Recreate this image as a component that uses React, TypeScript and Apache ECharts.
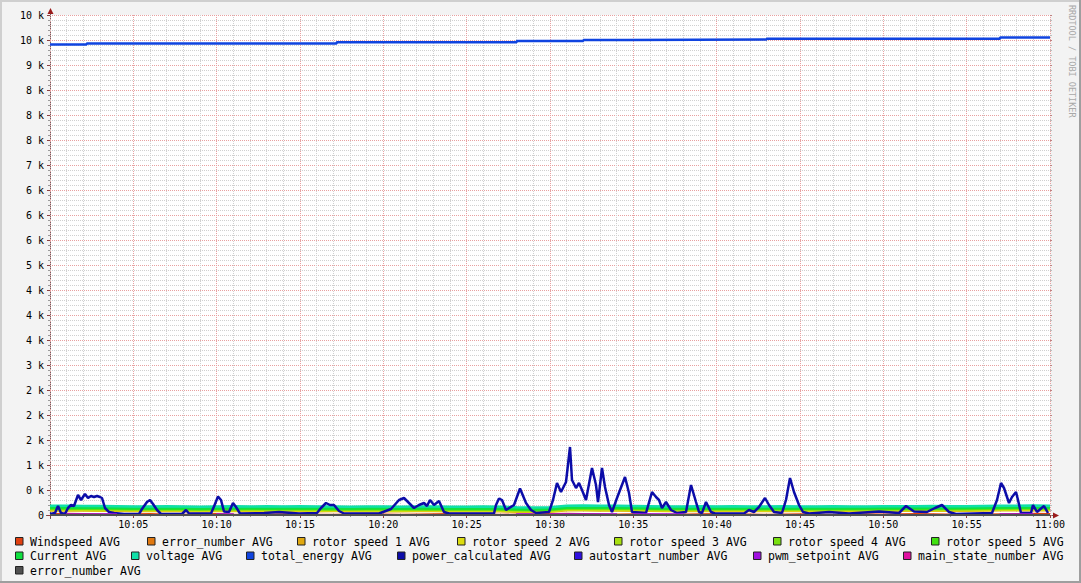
import React, { useEffect, useRef } from "react";
import * as echarts from "echarts";

// ---- tick labels ----
const xTickLabels = ["", "10:05", "10:10", "10:15", "10:20", "10:25", "10:30", "10:35", "10:40", "10:45", "10:50", "10:55", "11:00"];
const yTickLabels = ["0", "0 k", "1 k", "2 k", "2 k", "2 k", "3 k", "4 k", "4 k", "4 k", "5 k", "6 k", "6 k", "6 k", "7 k", "8 k", "8 k", "8 k", "9 k", "10 k", "10 k"];

// ---- series names / colours (legend order = drawing order) ----
const seriesNames = [
  "Windspeed AVG", "error_number AVG", "rotor speed 1 AVG", "rotor speed 2 AVG", "rotor speed 3 AVG",
  "rotor speed 4 AVG", "rotor speed 5 AVG", "Current AVG", "voltage AVG", "total_energy AVG",
  "power_calculated AVG", "autostart_number AVG", "pwm_setpoint AVG", "main_state_number AVG", "error_number AVG",
];
const seriesColors = [
  "#E04010", "#E07810", "#E0A810", "#DCDC10", "#A8E010",
  "#78E010", "#40E010", "#10E040", "#10E0A8", "#1044E0",
  "#0C0CA8", "#3010E0", "#A010E0", "#E010A0", "#505050",
];

// ---- data: minutes after 10:00 ----
const minutes = Array.from({ length: 61 }, (_, i) => i);

const windspeedAvg = [20,25,20,15,10,15,20,10,5,15, 20,10,5,10,15,20,10,5,10,15, 10,5,10,15,20,15,10,5,10,15, 20,25,20,15,10,15,10,5,10,15, 20,15,10,5,10,15,10,5,10,15, 10,15,20,15,10,5,10,15,20,25, 20];
const errorNumberAvg: [number, number][] = [[0, 0], [60, 0]];
const rotor1Avg = [90,95,90,85,85,80,80,85,80,75, 80,85,80,80,85,80,75,80,80,75, 80,75,80,80,75,75,80,75,65,60, 65,95,95,90,90,85,85,80,80,85, 80,85,80,80,85,80,75,80,85,80, 80,85,85,90,85,85,90,95,95,100, 95];
const rotor2Avg = [100,105,100,95,95,90,90,95,90,85, 90,95,90,90,95,90,85,90,90,85, 90,85,90,90,85,85,90,85,75,70, 75,105,105,100,100,95,95,90,90,95, 90,95,90,90,95,90,85,90,95,90, 90,95,95,100,95,95,100,105,105,110, 105];
const rotor3Avg = [115,120,115,110,110,105,110,105,105,100, 105,110,105,105,110,105,100,105,105,100, 105,100,105,105,100,100,105,100,90,85, 90,120,120,115,115,110,110,105,105,110, 105,110,105,105,105,110,100,105,110,105, 105,110,110,115,110,110,115,120,120,125, 120];
const rotor4Avg = [125,130,125,125,120,115,115,120,115,110, 115,115,120,115,120,115,115,110,115,115, 110,115,115,110,115,110,110,115,100,95, 100,130,130,130,125,125,120,115,115,120, 115,115,120,115,115,120,115,115,120,115, 115,120,120,125,120,120,125,130,130,135, 130];
const rotor5Avg = [140,135,135,140,130,125,130,125,125,120, 125,130,130,125,125,130,125,120,120,125, 125,125,120,125,120,125,120,120,110,105, 110,140,140,145,135,135,130,125,130,125, 125,130,125,130,125,125,130,125,125,130, 130,125,130,135,130,135,135,140,145,140, 140];
const currentAvg = [150,150,145,145,140,135,135,140,135,130, 135,140,135,140,135,140,135,135,130,135, 135,130,135,135,130,130,135,130,120,115, 120,150,155,150,150,145,140,135,135,140, 135,140,135,135,140,135,135,140,135,135, 140,140,140,145,140,140,145,150,150,155, 150];
const voltageAvg = [185,185,180,180,175,170,170,175,170,165, 170,175,170,175,170,175,170,170,165,170, 170,165,170,170,165,165,170,165,155,150, 155,185,190,185,185,180,175,170,170,175, 170,175,170,170,175,170,170,175,170,170, 175,175,175,180,175,175,180,185,185,190, 185];
const totalEnergyAvg: [number, number][] = [[0, 9410], [2.2, 9430], [17.2, 9455], [28, 9480], [32, 9500], [34.6, 9510], [43, 9525], [57, 9550], [60, 9550]];
const powerCalculatedAvg: [number, number][] = [
  [0,20],[0.3,40],[0.48,180],[0.66,40],[0.9,20],[1.08,140],[1.26,200],[1.44,180],[1.68,400],[1.86,300],[2.1,420],[2.28,340],[2.46,380],[2.64,360],[2.82,380],[3.0,360],[3.12,340],[3.3,140],[3.54,60],[3.84,40],[4.44,20],
  [5.34,20],[5.52,120],[5.82,260],[6.0,300],[6.18,220],[6.42,100],[6.66,20],[7.92,20],[8.16,100],[8.34,30],[9.66,30],[9.84,170],[10.08,370],[10.26,300],[10.44,70],[10.74,60],[10.98,240],[11.16,160],[11.4,30],
  [12.84,40],[13.74,60],[14.94,30],[16.02,40],[16.26,140],[16.56,240],[16.8,200],[17.04,200],[17.34,80],[17.64,30],[19.74,30],[20.46,120],[20.94,300],[21.24,340],[21.54,240],[21.84,140],[22.14,200],[22.44,240],[22.62,180],[22.8,300],[23.04,200],[23.34,280],[23.64,60],[23.94,30],
  [26.64,30],[26.76,200],[26.94,330],[27.12,300],[27.36,100],[27.84,200],[28.2,530],[28.56,240],[28.86,100],[29.16,40],[29.94,60],[30.18,300],[30.42,640],[30.66,460],[30.96,660],[31.2,1360],[31.32,700],[31.56,540],[31.74,640],[31.92,500],[32.16,300],[32.52,940],[32.76,600],[32.88,260],[33.12,940],[33.3,560],[33.54,200],[33.72,60],[34.02,340],[34.5,760],[34.74,440],[34.92,60],
  [35.76,40],[36.12,460],[36.36,360],[36.54,300],[36.72,140],[36.96,260],[37.26,100],[37.62,40],[38.16,60],[38.46,600],[38.76,260],[38.94,60],[39.12,40],[39.36,260],[39.66,60],[39.9,30],[41.64,30],[41.94,100],[42.24,60],[42.54,160],[42.9,340],[43.14,200],[43.44,60],[43.92,40],[44.16,300],[44.4,740],[44.64,460],[44.94,200],[45.18,60],[45.54,30],
  [46.74,60],[47.94,30],[49.74,70],[50.94,40],[51.12,100],[51.36,180],[51.84,70],[52.62,60],[53.1,140],[53.52,200],[53.94,60],[54.36,20],[56.52,40],[56.82,300],[57.06,640],[57.24,540],[57.54,240],[57.72,360],[57.96,460],[58.08,300],[58.26,40],[58.86,40],[58.98,200],[59.22,60],[59.64,180],[59.88,40],
];
const autostartNumberAvg: [number, number][] = [[0, 0], [60, 0]];
const pwmSetpointAvg = [0,15,15,15,0,0,0,0,0,0, 15,0,0,0,0,0,0,0,0,0, 0,0,0,0,0,0,0,0,15,0, 15,15,15,15,0,15,15,15,0,0, 0,0,0,0,0,0,0,0,0,0, 0,0,0,0,0,0,0,15,15,0, 0];
const mainStateNumberAvg: [number, number][] = [[0, 0], [60, 0]];
const errorNumber2Avg: [number, number][] = [[0, 0], [60, 0]];

const perMinute = (vals: number[]) => vals.map((v, i) => [minutes[i], v]);

const seriesData: any[] = [
  perMinute(windspeedAvg), errorNumberAvg, perMinute(rotor1Avg), perMinute(rotor2Avg), perMinute(rotor3Avg),
  perMinute(rotor4Avg), perMinute(rotor5Avg), perMinute(currentAvg), perMinute(voltageAvg), totalEnergyAvg,
  powerCalculatedAvg, autostartNumberAvg, perMinute(pwmSetpointAvg), mainStateNumberAvg, errorNumber2Avg,
];
const seriesWidths = [2, 2, 2.5, 2.5, 2.5, 2.5, 2.5, 2.5, 2.5, 2.5, 2.5, 2, 2, 2, 2];

// ---- legend layout ----
const legendRows = [[0, 1, 2, 3, 4, 5, 6], [7, 8, 9, 10, 11, 12, 13], [14]];
const legendRowX = [
  [15, 147, 297, 457, 614, 773, 931],
  [15, 131, 246, 397, 574, 753, 903],
  [15],
];
const legendRowY = [541.5, 556, 570.5];

const MONO = "DejaVu Sans Mono";

export default function App() {
  const ref = useRef<HTMLDivElement>(null);
  useEffect(() => {
    const chart = echarts.init(ref.current!, null, { renderer: "svg" });

    const graphics: any[] = [];
    // border shading
    graphics.push({ type: "rect", shape: { x: 0, y: 0, width: 1081, height: 2 }, style: { fill: "#CFCFCF" }, silent: true });
    graphics.push({ type: "rect", shape: { x: 0, y: 0, width: 2, height: 583 }, style: { fill: "#CFCFCF" }, silent: true });
    graphics.push({ type: "rect", shape: { x: 1079, y: 0, width: 2, height: 583 }, style: { fill: "#9E9E9E" }, silent: true });
    graphics.push({ type: "rect", shape: { x: 0, y: 581, width: 1081, height: 2 }, style: { fill: "#9E9E9E" }, silent: true });
    // axis extensions + arrows
    graphics.push({ type: "line", shape: { x1: 50.5, y1: 519, x2: 50.5, y2: 12 }, style: { stroke: "#666", lineWidth: 1 }, silent: true });
    graphics.push({ type: "line", shape: { x1: 46, y1: 515.5, x2: 1055, y2: 515.5 }, style: { stroke: "#666", lineWidth: 1 }, silent: true });
    graphics.push({ type: "polygon", shape: { points: [[47.5, 14], [53.5, 14], [50.5, 8]] }, style: { fill: "#9B1C1C" }, silent: true });
    graphics.push({ type: "polygon", shape: { points: [[1053, 512.5], [1053, 518.5], [1059, 515.5]] }, style: { fill: "#9B1C1C" }, silent: true });
    // watermark
    graphics.push({
      type: "text", x: 1072, y: 5, rotation: -Math.PI / 2, silent: true,
      style: { text: "RRDTOOL / TOBI OETIKER", fill: "#A8A8A8", font: `8.5px "${MONO}"`, textAlign: "left", textVerticalAlign: "middle", align: "left", verticalAlign: "middle" },
    });
    // legend
    legendRows.forEach((row, r) => {
      row.forEach((idx, k) => {
        const sx = legendRowX[r][k];
        const cy = legendRowY[r];
        graphics.push({ type: "rect", shape: { x: sx + 0.5, y: cy - 4, width: 7.5, height: 7.5 }, style: { fill: seriesColors[idx], stroke: "#222", lineWidth: 1 }, silent: true });
        graphics.push({
          type: "text", x: sx + 15, y: cy, silent: true,
          style: { text: seriesNames[idx], fill: "#000", font: `11.5px "${MONO}"`, textAlign: "left", textVerticalAlign: "middle", align: "left", verticalAlign: "middle" },
        });
      });
    });

    const series = seriesData.map((data, i) => ({
      type: "line",
      name: seriesNames[i] + "#" + i,
      data,
      showSymbol: false,
      symbol: "none",
      step: i === 9 || i === 12 ? "end" : false,
      lineStyle: { color: seriesColors[i], width: seriesWidths[i] },
      itemStyle: { color: seriesColors[i] },
      z: 2 + i * 0.01,
      silent: true,
    }));

    chart.setOption({
      animation: false,
      backgroundColor: "#F3F3F3",
      textStyle: { fontFamily: MONO },
      grid: { left: 50, top: 15, width: 1000, height: 500, show: true, backgroundColor: "#FFFFFF", borderWidth: 0 },
      xAxis: {
        type: "value", min: 0, max: 60, interval: 5,
        axisLine: { show: false },
        axisTick: { show: true, length: 3, lineStyle: { color: "#8B4040" } },
        minorTick: { show: true, splitNumber: 5, length: 2, lineStyle: { color: "#999" } },
        axisLabel: { show: true, margin: 4, fontSize: 10, fontFamily: MONO, color: "#000", formatter: (v: number) => xTickLabels[Math.round(v / 5)] ?? "" },
        splitLine: { show: true, lineStyle: { color: "#E8A0A0", type: [1, 1], width: 1 } },
        minorSplitLine: { show: true, lineStyle: { color: "#D0D0D0", type: [1, 1], width: 1 } },
      },
      yAxis: [
        {
          type: "value", min: 0, max: 10000, interval: 500,
          axisLine: { show: false },
          axisTick: { show: true, length: 3, lineStyle: { color: "#8B4040" } },
          minorTick: { show: true, splitNumber: 5, length: 2, lineStyle: { color: "#999" } },
          axisLabel: { show: true, margin: 6, fontSize: 10, fontFamily: MONO, color: "#000", formatter: (v: number) => yTickLabels[Math.round(v / 500)] ?? "" },
          splitLine: { show: true, lineStyle: { color: "#E8A0A0", type: [1, 1], width: 1 } },
          minorSplitLine: { show: true, lineStyle: { color: "#D0D0D0", type: [1, 1], width: 1 } },
        },
        {
          type: "value", min: 0, max: 10000, interval: 500, position: "right",
          axisLine: { show: false },
          axisTick: { show: true, length: 2, lineStyle: { color: "#C08080" } },
          minorTick: { show: true, splitNumber: 5, length: 2, lineStyle: { color: "#BBB" } },
          axisLabel: { show: false },
          splitLine: { show: false },
          minorSplitLine: { show: false },
        },
      ],
      graphic: graphics,
      series,
    });
    return () => chart.dispose();
  }, []);
  return <div ref={ref} style={{ position: "absolute", left: 0, top: 0, width: 1081, height: 583 }} />;
}
